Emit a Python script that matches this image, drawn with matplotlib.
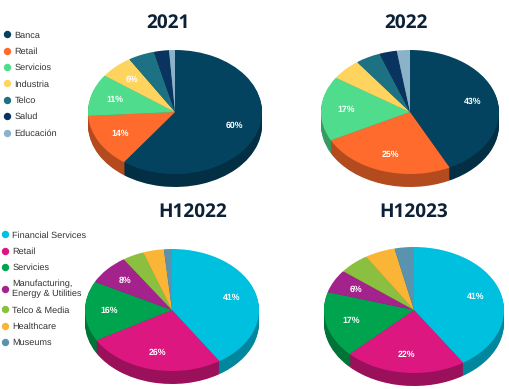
import numpy as np
import matplotlib
matplotlib.use("Agg")
import matplotlib.pyplot as plt
from matplotlib.colors import to_rgb
from matplotlib.lines import Line2D

W, H = 510, 389
plt.rcParams["text.hinting"] = "none"

# data
sectores_es = ["Banca", "Retail", "Servicios", "Industria", "Telco", "Salud", "Educación"]
colores_es = ["#03435f", "#ff6b2c", "#4fdc8c", "#ffd45e", "#1c7283", "#0a3460", "#8ab2c8"]
valores_2021 = [60, 14, 11, 6.2, 4.9, 2.8, 1.1]
etiquetas_2021 = ["60%", "14%", "11%", "6%", "", "", ""]
valores_2022 = [43, 25, 17, 5.6, 4.6, 3.2, 2.4]
etiquetas_2022 = ["43%", "25%", "17%", "", "", "", ""]

sectores_en = ["Financial Services", "Retail", "Servicies", "Manufacturing,\nEnergy & Utilities",
               "Telco & Media", "Healthcare", "Museums"]
colores_en = ["#00c0e0", "#dd1780", "#00a44f", "#a4228c", "#8abf40", "#fab436", "#5a93b0"]
valores_h12022 = [41, 26, 16, 8, 4, 3.9, 1.5]
etiquetas_h12022 = ["41%", "26%", "16%", "8%", "", "", ""]
valores_h12023 = [41, 22, 17, 6, 5.5, 5.5, 3.5]
etiquetas_h12023 = ["41%", "22%", "17%", "6%", "", "", ""]


def assombrir(couleur, f=0.7):
    return tuple(c * f for c in to_rgb(couleur))


# cx, cy, rx, ry, prof in pixels of the picture
def camembert(fig, valeurs, etiquettes, couleurs, cx, cy, rx, ry, prof):
    d = prof / ry
    ax = fig.add_axes([(cx - rx) / W, (H - cy - ry - prof) / H, 2 * rx / W, (2 * ry + prof) / H])
    sombres = [assombrir(c) for c in couleurs]
    for dy in np.linspace(d, 0, 14)[:-1]:
        ax.pie(valeurs, colors=sombres, startangle=90, counterclock=False, radius=1,
               center=(0, -dy), wedgeprops={"linewidth": 0})
    w, t, auto = ax.pie(valeurs, colors=couleurs, startangle=90, counterclock=False, radius=1,
                        autopct="%d%%", pctdistance=0.72, wedgeprops={"linewidth": 0})
    for a, s in zip(auto, etiquettes):
        a.set_text(s)
        a.set_color("white")
        a.set_fontsize(6.3)
        a.set_fontweight("bold")
        a.set_family("Liberation Sans")
    ax.set_aspect("auto")
    ax.set_xlim(-1, 1)
    ax.set_ylim(-1 - d, 1)
    ax.axis("off")


def titre(fig, texte, x, y):
    fig.text(x / W, 1 - y / H, texte, ha="center", va="center", family="Open Sans",
             fontweight="bold", fontsize=13.7, color="#0d2136")


def legende(fig, noms, couleurs, x, y, espace):
    poignees = [Line2D([], [], linestyle="none", marker="o", markersize=4.3, color=c, label=n)
                for n, c in zip(noms, couleurs)]
    fig.legend(handles=poignees, loc="upper left", bbox_to_anchor=(x / W, 1 - y / H),
               frameon=False, prop={"family": "Liberation Sans", "size": 6.6},
               labelspacing=espace, handletextpad=0.3, borderpad=0, borderaxespad=0,
               labelcolor="#333333", handlelength=1.0)


fig = plt.figure(figsize=(W / 100, H / 100), dpi=100)

camembert(fig, valores_2021, etiquetas_2021, colores_es, 175, 112, 87, 62, 13)
camembert(fig, valores_2022, etiquetas_2022, colores_es, 410, 112, 89, 62, 13)
camembert(fig, valores_h12022, etiquetas_h12022, colores_en, 172, 310, 87, 61, 13)
camembert(fig, valores_h12023, etiquetas_h12023, colores_en, 414, 310, 90, 63, 13)

titre(fig, "2021", 168, 23)
titre(fig, "2022", 406, 23)
titre(fig, "H12022", 193, 212)
titre(fig, "H12023", 414, 212)

legende(fig, sectores_es, colores_es, 2.4, 31, 0.87)
legende(fig, sectores_en, colores_en, 0.4, 231, 0.87)

fig.savefig("out.png", dpi=100, facecolor="white")
